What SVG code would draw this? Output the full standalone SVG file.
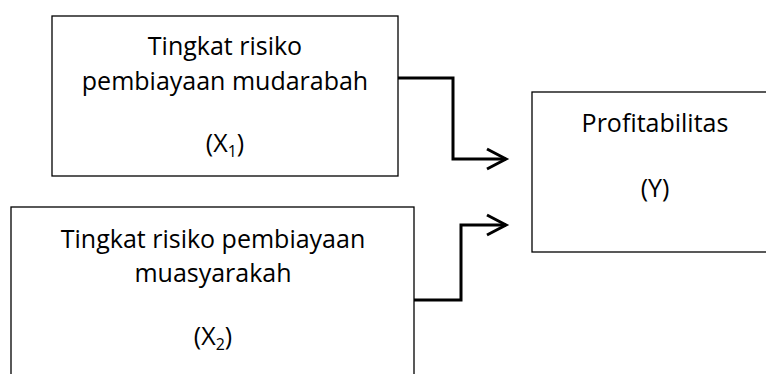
<svg xmlns="http://www.w3.org/2000/svg" width="766" height="374" viewBox="0 0 766 374">
<style>
.box{fill:#fff;stroke:#000;stroke-width:1.3}
.t{font-family:"Open Sans","Liberation Sans",sans-serif;font-size:25px;fill:#000;text-anchor:middle}
.sub{font-size:16px}
.c{fill:none;stroke:#000;stroke-width:3;stroke-linejoin:miter}
</style>
<rect width="766" height="374" fill="#fff"/>
<g id="x1">
<rect class="box" x="52" y="16" width="346" height="160"/>
<text class="t" x="225" y="55">Tingkat risiko</text>
<text class="t" x="225" y="90">pembiayaan mudarabah</text>
<text class="t" x="225" y="152">(X<tspan class="sub" dy="5">1</tspan><tspan dy="-5">)</tspan></text>
</g>
<g id="x2">
<rect class="box" x="11" y="207" width="403" height="180"/>
<text class="t" x="213" y="248">Tingkat risiko pembiayaan</text>
<text class="t" x="213" y="282">muasyarakah</text>
<text class="t" x="213" y="345">(X<tspan class="sub" dy="5">2</tspan><tspan dy="-5">)</tspan></text>
</g>
<g id="y">
<rect class="box" x="532" y="92" width="250" height="160"/>
<text class="t" x="655" y="132">Profitabilitas</text>
<text class="t" x="655" y="197">(Y)</text>
</g>
<g id="connectors">
<path class="c" d="M398 78 H453 V159 H506"/>
<path class="c" d="M487 149 L506 159 L487 169"/>
<path class="c" d="M414 300 H461 V225 H506"/>
<path class="c" d="M487 215 L506 225 L487 235"/>
</g>
</svg>
